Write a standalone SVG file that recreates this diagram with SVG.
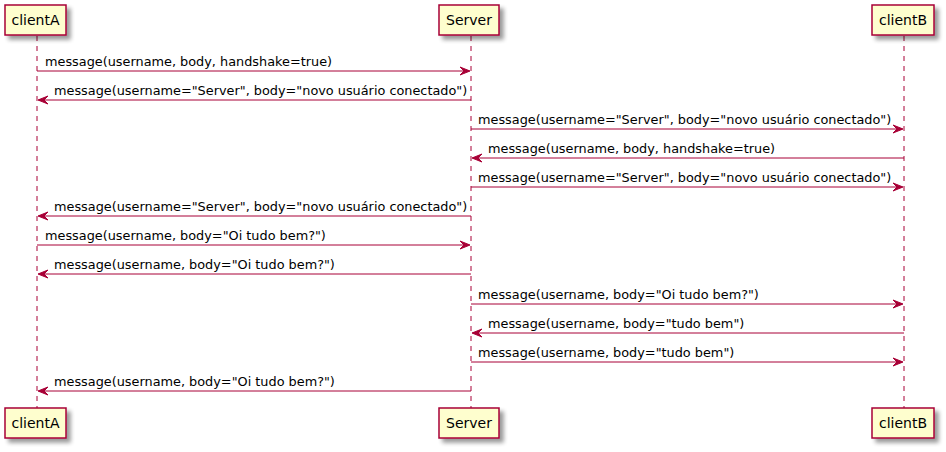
<svg xmlns="http://www.w3.org/2000/svg" width="946" height="452" viewBox="0 0 946 452">
<style>
.box{fill:#FEFECE;stroke:#A80036;stroke-width:1.5;filter:url(#sh)}
.life{stroke:#A80036;stroke-width:1;stroke-dasharray:5,5;fill:none}
.msg{stroke:#A80036;stroke-width:1;fill:none}
.head{fill:#A80036;stroke:#A80036;stroke-width:1}
text{font-family:"DejaVu Sans",sans-serif;font-size:12.85px;fill:#000}
.pt{font-size:14px}
</style>
<defs>
<filter id="sh" x="-20%" y="-20%" width="150%" height="160%">
<feGaussianBlur in="SourceAlpha" stdDeviation="2"/>
<feOffset dx="4" dy="4" result="b"/>
<feComponentTransfer in="b" result="c"><feFuncA type="linear" slope="0.4"/></feComponentTransfer>
<feMerge><feMergeNode in="c"/><feMergeNode in="SourceGraphic"/></feMerge>
</filter>
<polygon id="ar" points="0,0 -10,-4 -6,0 -10,4" class="head"/>
<polygon id="al" points="0,0 10,-4 6,0 10,4" class="head"/>
</defs>
<g id="lifelines">
<line class="life" x1="37" y1="36" x2="37" y2="408"/>
<line class="life" x1="471" y1="36" x2="471" y2="408"/>
<line class="life" x1="904" y1="36" x2="904" y2="408"/>
</g>
<g id="clientA">
<rect class="box" x="5" y="5" width="61" height="30"/>
<text class="pt" x="35.5" y="25" text-anchor="middle">clientA</text>
<rect class="box" x="5" y="408" width="61" height="30"/>
<text class="pt" x="35.5" y="428" text-anchor="middle">clientA</text>
</g>
<g id="Server">
<rect class="box" x="439" y="5" width="60" height="30"/>
<text class="pt" x="469" y="25" text-anchor="middle">Server</text>
<rect class="box" x="439" y="408" width="60" height="30"/>
<text class="pt" x="469" y="428" text-anchor="middle">Server</text>
</g>
<g id="clientB">
<rect class="box" x="872" y="5" width="62" height="30"/>
<text class="pt" x="903" y="25" text-anchor="middle">clientB</text>
<rect class="box" x="872" y="408" width="62" height="30"/>
<text class="pt" x="903" y="428" text-anchor="middle">clientB</text>
</g>
<g id="connectors">
<line class="msg" x1="37" y1="71" x2="469" y2="71"/><use href="#ar" x="470" y="71"/>
<text x="45" y="66">message(username, body, handshake=true)</text>
<line class="msg" x1="39" y1="100" x2="471" y2="100"/><use href="#al" x="38" y="100"/>
<text x="54" y="95">message(username="Server", body="novo usuário conectado")</text>
<line class="msg" x1="471" y1="129" x2="902" y2="129"/><use href="#ar" x="903" y="129"/>
<text x="478" y="124">message(username="Server", body="novo usuário conectado")</text>
<line class="msg" x1="473" y1="158" x2="904" y2="158"/><use href="#al" x="472" y="158"/>
<text x="488" y="153">message(username, body, handshake=true)</text>
<line class="msg" x1="471" y1="187" x2="902" y2="187"/><use href="#ar" x="903" y="187"/>
<text x="478" y="182">message(username="Server", body="novo usuário conectado")</text>
<line class="msg" x1="39" y1="216" x2="471" y2="216"/><use href="#al" x="38" y="216"/>
<text x="54" y="211">message(username="Server", body="novo usuário conectado")</text>
<line class="msg" x1="37" y1="245" x2="469" y2="245"/><use href="#ar" x="470" y="245"/>
<text x="45" y="240">message(username, body="Oi tudo bem?")</text>
<line class="msg" x1="39" y1="274" x2="471" y2="274"/><use href="#al" x="38" y="274"/>
<text x="54" y="269">message(username, body="Oi tudo bem?")</text>
<line class="msg" x1="471" y1="304" x2="902" y2="304"/><use href="#ar" x="903" y="304"/>
<text x="478" y="299">message(username, body="Oi tudo bem?")</text>
<line class="msg" x1="473" y1="333" x2="904" y2="333"/><use href="#al" x="472" y="333"/>
<text x="488" y="328">message(username, body="tudo bem")</text>
<line class="msg" x1="471" y1="362" x2="902" y2="362"/><use href="#ar" x="903" y="362"/>
<text x="478" y="357">message(username, body="tudo bem")</text>
<line class="msg" x1="39" y1="391" x2="471" y2="391"/><use href="#al" x="38" y="391"/>
<text x="54" y="386">message(username, body="Oi tudo bem?")</text>
</g>
</svg>
